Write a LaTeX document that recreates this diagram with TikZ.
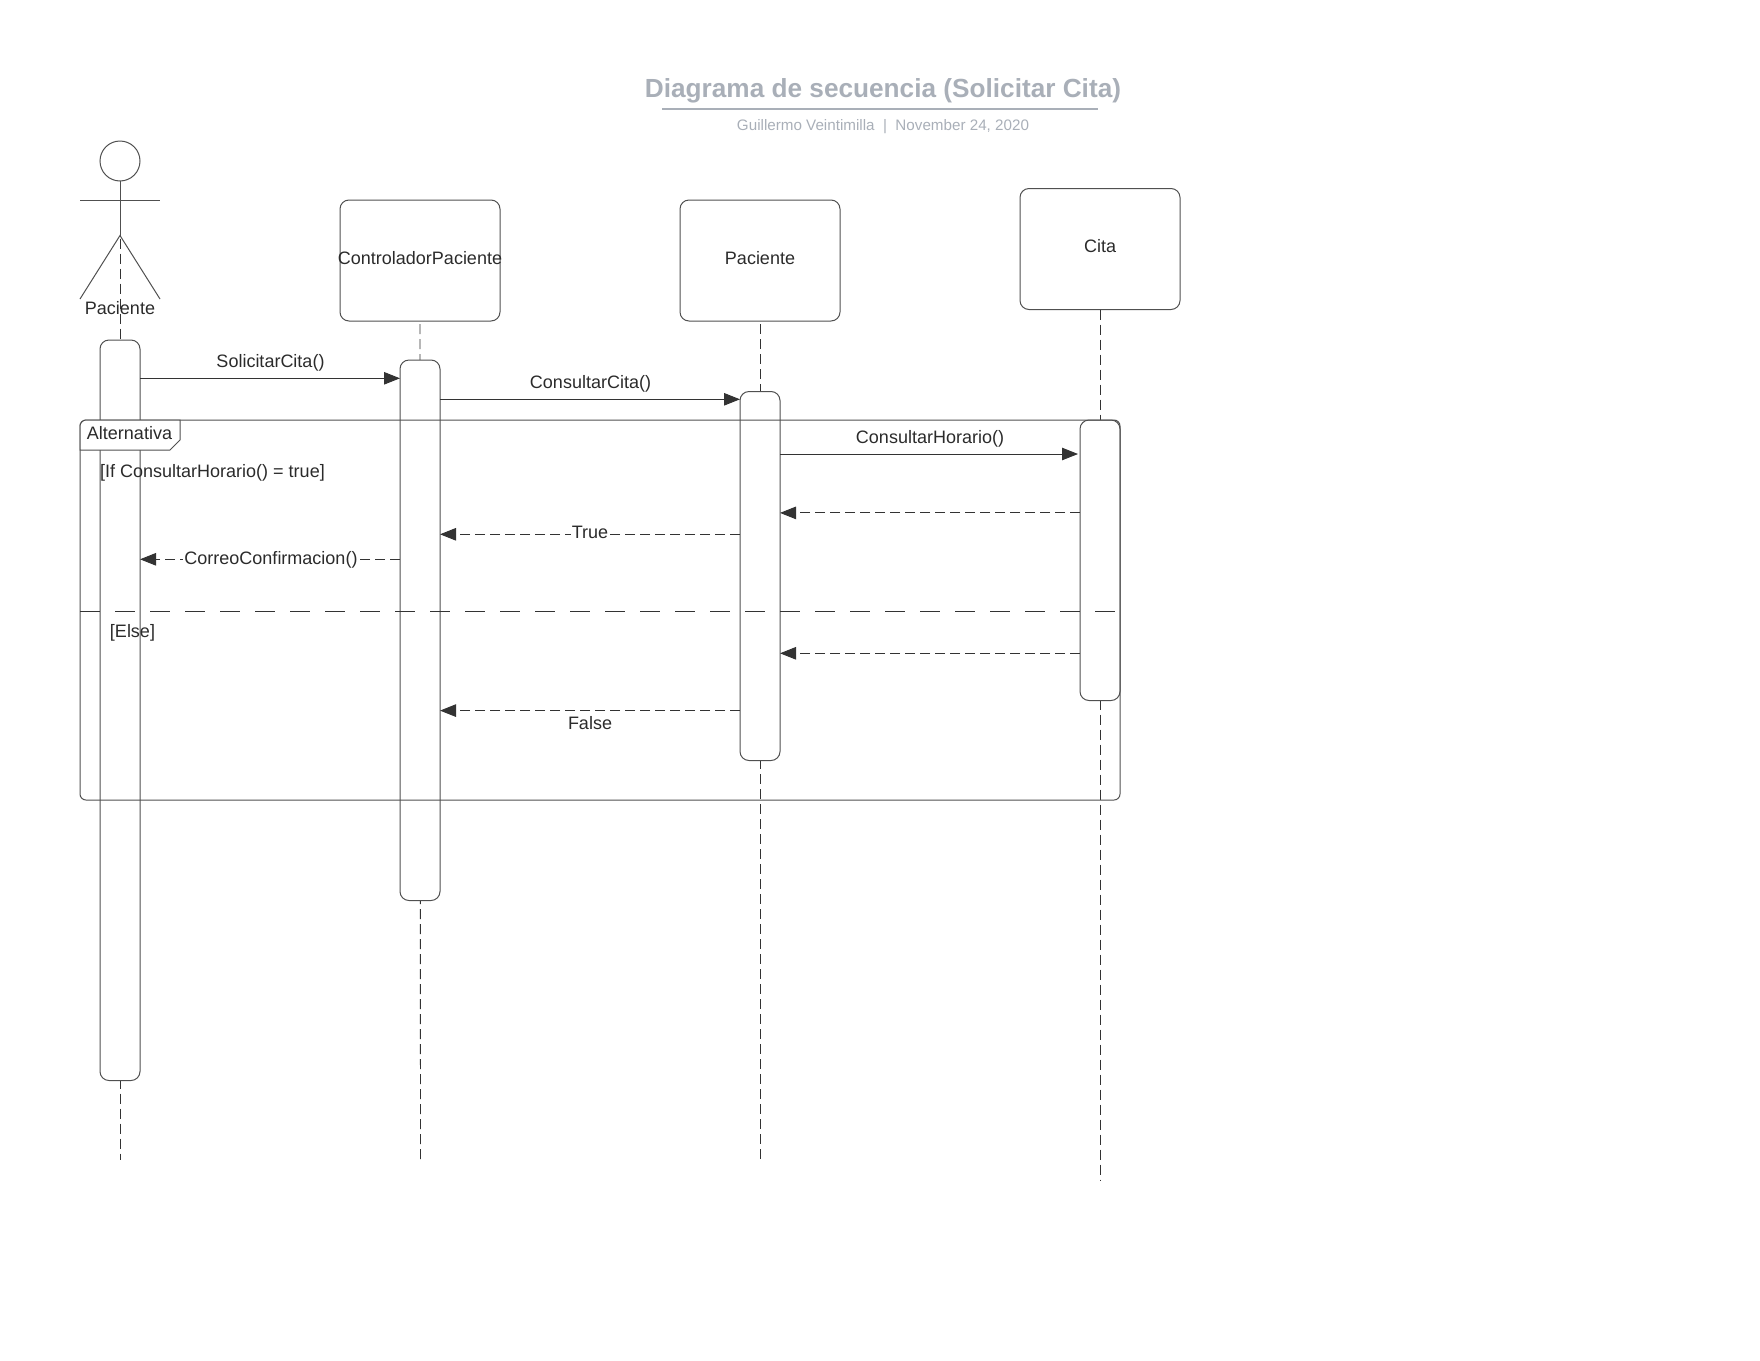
\documentclass[tikz,border=0pt]{standalone}
\usepackage{fontspec}
\setmainfont{Liberation Sans}
\usetikzlibrary{arrows.meta,calc}
\definecolor{ln}{HTML}{505050}
\definecolor{dk}{HTML}{333333}
\definecolor{tx}{HTML}{2B2B2B}
\definecolor{ttl}{HTML}{A9AFB8}
\tikzset{
  base/.style={line width=1pt,draw=ln,outer sep=0pt},
  txt/.style={font=\fontsize{18}{20}\selectfont,text=tx,inner sep=0pt,outer sep=0pt},
  lbox/.style={base,rounded corners=9pt,minimum width=160pt,minimum height=121pt,inner sep=0pt,font=\fontsize{18}{20}\selectfont,text=tx,text depth=6pt},
  activ/.style={base,fill=white,rounded corners=9pt,minimum width=40pt,inner sep=0pt},
  life/.style={line width=0.9pt,draw=dk,dash pattern=on 10pt off 5pt},
  msg/.style={line width=0.9pt,draw=dk,-{Triangle[length=16pt,width=12.5pt,fill=dk]}},
  ret/.style={msg,dash pattern=on 10pt off 5pt},
  divline/.style={line width=0.9pt,draw=dk,dash pattern=on 20pt off 15pt},
}
\begin{document}
\begin{tikzpicture}[x=1pt,y=-1pt]
\useasboundingbox (0,0) rectangle (1760,1360);
% title
\node[inner sep=0pt,font=\fontsize{26.2}{30}\bfseries\selectfont,text=ttl] (title) at (883,90.5) {Diagrama de secuencia (Solicitar Cita)};
\coordinate (ulL) at (662,109);
\coordinate (ulR) at (1098,109);
\draw[line width=2pt,draw=ttl] (ulL) -- (ulR);
\node[inner sep=0pt,font=\fontsize{15.2}{18}\selectfont,text=ttl] (sub) at (883,126.5) {Guillermo Veintimilla \ | \ November 24, 2020};
% heads
\node[lbox,anchor=north west] (ctrl) at (340,200) {\makebox[0pt][c]{ControladorPaciente}};
\node[lbox,anchor=north west] (pac) at (680,200) {Paciente};
\node[lbox,anchor=north west] (cita) at (1020,188.5) {Cita};
% actor
\node[base,circle,minimum size=40pt,inner sep=0pt] (head) at (120,161) {};
\coordinate (hip) at (120,235.5);
\coordinate (armL) at (80,200.5);
\coordinate (armR) at (160,200.5);
\coordinate (legL) at (80,299);
\coordinate (legR) at (160,299);
\draw[base] (head.south) -- (hip);
\draw[base] (armL) -- (armR);
\draw[base] (legL) -- (hip) -- (legR);
% lifeline ends
\coordinate (e1) at (120,1160);
\coordinate (e2) at (420.5,1160);
\coordinate (e3) at (760,1160);
\coordinate (e4) at (1100,1180);
\draw[life,dash phase=-3pt] (hip) -- (e1);
\draw[life,dash phase=-3pt] (ctrl.south) -- (e2);
\draw[life,dash phase=-3pt] (pac.south) -- (e3);
\draw[life] (cita.south) -- (e4);
% activations
\node[activ,anchor=north,minimum height=740.5pt] (a1) at (120,340) {};
\node[activ,anchor=north,minimum height=540.5pt] (a2) at (420,360) {};
\node[activ,anchor=north,minimum height=369pt] (a3) at (760,391.5) {};
\node[activ,anchor=north,minimum height=280.5pt] (a4) at (1100,420) {};
% frame
\node[base,rounded corners=6pt,anchor=north west,minimum width=1040pt,minimum height=380pt,inner sep=0pt] (frame) at (80,420) {};
\draw[base,fill=white] (80,450) -- (80,426) .. controls (80,423) and (83,420) .. (86,420) -- (180,420) -- (180,440) -- (170,450) -- cycle;
% levels
\coordinate (y1) at (0,378.3);
\coordinate (y2) at (0,399.3);
\coordinate (y3) at (0,454);
\coordinate (y4) at (0,512.9);
\coordinate (y5) at (0,534.3);
\coordinate (y6) at (0,559.3);
\coordinate (y7) at (0,653.3);
\coordinate (y8) at (0,710.6);
\coordinate (yd) at (0,611);
\coordinate (dR) at (1115,611);
\draw[divline] (frame.west |- yd) -- (dR);
\draw[msg] (a1.east |- y1) -- (a2.west |- y1);
\draw[msg] (a2.east |- y2) -- (a3.west |- y2);
\draw[msg] (a3.east |- y3) -- ([xshift=-2pt]a4.west |- y3);
\draw[ret] (a4.west |- y4) -- (a3.east |- y4);
\draw[ret] (a3.west |- y5) -- (a2.east |- y5);
\draw[ret] (a2.west |- y6) -- (a1.east |- y6);
\draw[ret] (a4.west |- y7) -- (a3.east |- y7);
\draw[ret] (a3.west |- y8) -- (a2.east |- y8);
% labels
\node[txt] (lpac) at (120,308) {Paciente};
\node[txt] (l1) at (270.5,363) {SolicitarCita()};
\node[txt] (l2) at (590.5,383.5) {ConsultarCita()};
\node[txt] (l3) at (930,439) {ConsultarHorario()};
\node[txt,fill=white,inner xsep=1pt] (l4) at (590,532) {True};
\node[txt,fill=white,inner xsep=1pt] (l5) at (271,559.5) {CorreoConfirmacion()};
\node[txt] (l6) at (590,723) {False};
\node[txt] (alt) at (129.5,433) {Alternativa};
\node[txt] (gif) at (212.5,472.5) {[If ConsultarHorario() = true]};
\node[txt] (gelse) at (132.5,632.5) {[Else]};
\end{tikzpicture}
\end{document}
